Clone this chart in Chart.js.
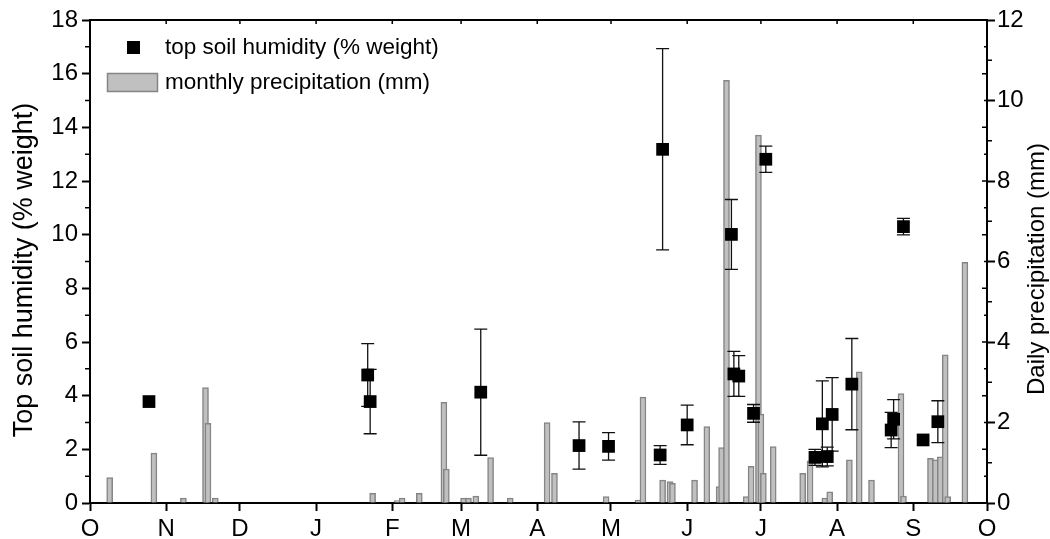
<!DOCTYPE html>
<html>
<head>
<meta charset="utf-8">
<title>Soil humidity and precipitation</title>
<script src="https://cdn.jsdelivr.net/npm/chart.js@4/dist/chart.umd.min.js"></script>
<style>
  body { margin: 0; background: #fff; }
  canvas { display: block; }
</style>
</head>
<body>
<canvas id="chart" width="1050" height="539"></canvas>
<script>
// x axis runs in days from 1 October (day 0) to the next 1 October (day 365)
const monthLabels = ['O', 'N', 'D', 'J', 'F', 'M', 'A', 'M', 'J', 'J', 'A', 'S', 'O'];
const monthStart = [0, 31, 61, 92, 123, 151, 182, 212, 243, 273, 304, 335, 365];

// daily precipitation (mm), right axis
const rainDay = [8, 26, 38, 47, 48, 51, 115, 125, 127, 134, 144, 145, 152, 154, 157, 163, 171, 186, 189,
  210, 223, 225, 233, 236, 237, 246, 251, 256, 257, 259, 267, 269, 272, 273, 274, 278,
  290, 293, 299, 301, 309, 313, 318, 330, 331, 342, 344, 346, 348, 349, 356];
const rainMm = [0.63, 1.24, 0.12, 2.87, 1.98, 0.12, 0.24, 0.06, 0.12, 0.24, 2.5, 0.84, 0.12, 0.12, 0.17, 1.13, 0.12, 2.0, 0.74,
  0.16, 0.07, 2.63, 0.57, 0.53, 0.49, 0.57, 1.9, 0.41, 1.38, 10.5, 0.16, 0.91, 9.14, 2.21, 0.74, 1.4,
  0.74, 1.05, 0.12, 0.28, 1.07, 3.26, 0.57, 2.72, 0.17, 1.11, 1.07, 1.15, 3.68, 0.16, 5.98];

// top soil humidity (% weight) with error bars, left axis
const soilDay = [24, 113, 114, 159, 199, 211, 233, 232, 243, 261, 262, 264, 270, 275,
  295, 298, 300, 302, 310, 326, 327, 331, 339, 345];
const soilVal = [3.78, 4.77, 3.78, 4.13, 2.14, 2.11, 13.18, 1.79, 2.91, 10.01, 4.81, 4.73, 3.34, 12.81,
  1.7, 2.95, 1.73, 3.3, 4.43, 2.72, 3.12, 10.3, 2.35, 3.03];
const soilErr = [0, 1.17, 1.2, 2.35, 0.88, 0.51, 3.75, 0.35, 0.74, 1.3, 0.84, 0.76, 0.33, 0.49,
  0.3, 1.6, 0.35, 1.37, 1.7, 0.66, 0.73, 0.31, 0, 0.78];

const leftTitle = 'Top soil humidity (% weight)';
const rightTitle = 'Daily precipitation (mm)';
const soilLabel = 'top soil humidity (% weight)';
const rainLabel = 'monthly precipitation (mm)';

const FONT = "'Liberation Sans', Arial, Helvetica, sans-serif";
Chart.defaults.font.family = FONT;
Chart.defaults.color = '#000';

const barFill = '#c0c0c0';
const barEdge = '#858585';

// error bars go under the squares but over the precipitation bars
const errorBars = {
  id: 'errorBars',
  beforeDatasetDraw(chart, args) {
    if (args.index !== 0) return;
    const ctx = chart.ctx;
    const x = chart.scales.x;
    const y = chart.scales.y;
    ctx.save();
    ctx.strokeStyle = '#111';
    ctx.lineWidth = 1.3;
    soilDay.forEach((d, i) => {
      if (!soilErr[i]) return;
      const px = x.getPixelForValue(d);
      const top = y.getPixelForValue(soilVal[i] + soilErr[i]);
      const bot = y.getPixelForValue(soilVal[i] - soilErr[i]);
      ctx.beginPath();
      ctx.moveTo(px, top); ctx.lineTo(px, bot);
      ctx.moveTo(px - 6.5, top); ctx.lineTo(px + 6.5, top);
      ctx.moveTo(px - 6.5, bot); ctx.lineTo(px + 6.5, bot);
      ctx.stroke();
    });
    ctx.restore();
  }
};

// frame, minor ticks, axis titles and the legend box
const decor = {
  id: 'decor',
  afterDraw(chart) {
    const ctx = chart.ctx;
    const a = chart.chartArea;
    const y = chart.scales.y;
    const y1 = chart.scales.y1;
    const x = chart.scales.x;
    ctx.save();
    ctx.strokeStyle = '#000';

    // top border
    ctx.lineWidth = 2;
    ctx.beginPath();
    ctx.moveTo(a.left - 1, a.top);
    ctx.lineTo(a.right + 1, a.top);
    ctx.stroke();

    // minor ticks
    ctx.lineWidth = 1.5;
    ctx.beginPath();
    for (let v = 1; v < 18; v += 2) {
      const py = y.getPixelForValue(v);
      ctx.moveTo(a.left - 5, py); ctx.lineTo(a.left, py);
    }
    for (let v = 1; v < 12; v += 2) {
      const py = y1.getPixelForValue(v);
      ctx.moveTo(a.right, py); ctx.lineTo(a.right + 5, py);
    }
    // mirrored ticks, pointing inward
    for (let v = 0; v <= 18; v++) {
      const py = y.getPixelForValue(v);
      ctx.moveTo(a.right - (v % 2 ? 3 : 5), py); ctx.lineTo(a.right, py);
    }
    monthStart.forEach(m => {
      const px = x.getPixelForValue(m);
      ctx.moveTo(px, a.top); ctx.lineTo(px, a.top + 4);
    });
    ctx.stroke();

    // axis titles, both read bottom to top
    ctx.fillStyle = '#000';
    ctx.textAlign = 'center';
    ctx.textBaseline = 'middle';
    ctx.save();
    ctx.font = '27px ' + FONT;
    ctx.translate(25, 270);
    ctx.rotate(-Math.PI / 2);
    ctx.fillText(leftTitle, 0, 0);
    ctx.restore();
    ctx.save();
    ctx.font = '24px ' + FONT;
    ctx.translate(1037, 269);
    ctx.rotate(-Math.PI / 2);
    ctx.fillText(rightTitle, 0, 0);
    ctx.restore();

    // legend
    ctx.fillRect(127, 41, 13, 13);
    ctx.fillStyle = barFill;
    ctx.strokeStyle = barEdge;
    ctx.lineWidth = 1.5;
    ctx.fillRect(107, 73, 51, 19);
    ctx.strokeRect(107.5, 73.5, 50, 18);
    ctx.fillStyle = '#000';
    ctx.font = '22.5px ' + FONT;
    ctx.textAlign = 'left';
    ctx.fillText(soilLabel, 165, 48);
    ctx.fillText(rainLabel, 165, 83);
    ctx.restore();
  }
};

const axisGrid = { drawOnChartArea: false, drawTicks: true, tickLength: 8, tickWidth: 2, color: '#000' };

new Chart(document.getElementById('chart'), {
  type: 'bar',
  data: {
    datasets: [{
      type: 'scatter',
      label: soilLabel,
      data: soilDay.map((d, i) => ({ x: d, y: soilVal[i] })),
      yAxisID: 'y',
      pointStyle: 'rect',
      pointRadius: 9,
      pointBackgroundColor: '#000',
      pointBorderColor: '#000',
      pointBorderWidth: 0,
      order: 0
    }, {
      type: 'bar',
      label: rainLabel,
      data: rainDay.map((d, i) => ({ x: d, y: rainMm[i] })),
      yAxisID: 'y1',
      backgroundColor: barFill,
      borderColor: barEdge,
      borderWidth: 1.5,
      barThickness: 6,
      order: 1
    }]
  },
  options: {
    responsive: false,
    animation: false,
    devicePixelRatio: 1,
    layout: { padding: { top: 20, left: 0, right: 0, bottom: 0 } },
    plugins: { legend: { display: false }, tooltip: { enabled: false } },
    scales: {
      x: {
        type: 'linear',
        min: 0,
        max: 365,
        offset: false,
        grid: Object.assign({ offset: false }, axisGrid),
        border: { color: '#000', width: 2 },
        afterBuildTicks: s => { s.ticks = monthStart.map(v => ({ value: v })); },
        afterFit: s => { s.height = 36; },
        ticks: {
          autoSkip: false,
          maxRotation: 0,
          padding: 4,
          font: { size: 24 },
          callback: v => monthLabels[monthStart.indexOf(v)]
        }
      },
      y: {
        position: 'left',
        min: 0,
        max: 18,
        grid: axisGrid,
        border: { color: '#000', width: 2 },
        afterFit: s => { s.width = 90; },
        ticks: { stepSize: 2, padding: 4, font: { size: 24 } }
      },
      y1: {
        position: 'right',
        min: 0,
        max: 12,
        grid: axisGrid,
        border: { color: '#000', width: 2 },
        afterFit: s => { s.width = 63; },
        ticks: { stepSize: 2, padding: 2, font: { size: 24 } }
      }
    }
  },
  plugins: [errorBars, decor]
});
</script>
</body>
</html>
